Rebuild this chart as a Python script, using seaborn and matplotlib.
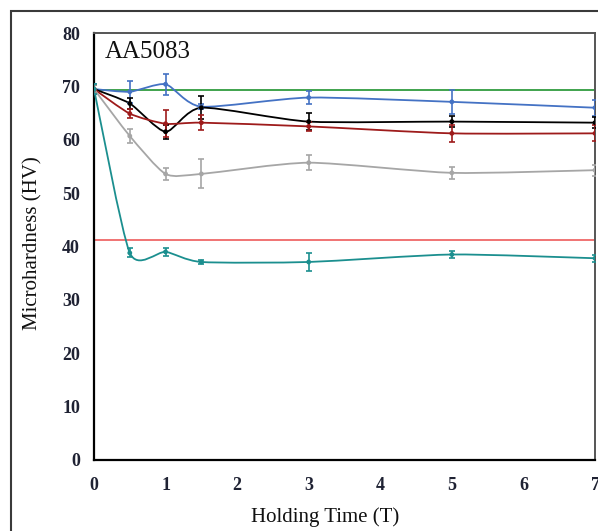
import numpy as np
import pandas as pd
import matplotlib
matplotlib.use("Agg")
import matplotlib.pyplot as plt
import seaborn as sns
from matplotlib.path import Path
from matplotlib.patches import PathPatch, Rectangle

# ---------------- data ----------------
time_T = [0, 0.5, 1, 1.5, 3, 5, 7]
series_names = ["blue", "black", "darkred", "gray", "teal"]

blue_hv = [69.5, 69.0, 70.4, 66.2, 67.9, 67.1, 66.0]
blue_err = [1.0, 2.1, 2.0, 0.5, 1.2, 2.2, 1.5]
black_hv = [69.5, 66.8, 61.5, 66.0, 63.4, 63.4, 63.2]
black_err = [0.8, 1.0, 1.3, 2.2, 1.6, 1.0, 1.0]
red_hv = [69.5, 64.9, 63.0, 63.2, 62.5, 61.2, 61.2]
red_err = [0.8, 0.8, 2.5, 1.4, 0.9, 1.6, 1.5]
gray_hv = [69.5, 60.7, 53.6, 53.6, 55.7, 53.8, 54.3]
gray_err = [0.8, 1.3, 1.1, 2.7, 1.4, 1.1, 1.0]
teal_hv = [69.5, 38.8, 39.0, 37.1, 37.1, 38.5, 37.8]
teal_err = [1.0, 0.85, 0.8, 0.3, 1.6, 0.7, 0.7]

upper_ref_hv = 69.3   # green reference line
lower_ref_hv = 41.2   # red reference line

x_ticks = [0, 1, 2, 3, 4, 5, 6, 7]
y_ticks = [0, 10, 20, 30, 40, 50, 60, 70, 80]

colors = {
    "blue": "#4472C4",
    "black": "#000000",
    "darkred": "#9E1B1B",
    "gray": "#A6A6A6",
    "teal": "#1B8F8F",
}
values = {"blue": blue_hv, "black": black_hv, "darkred": red_hv,
          "gray": gray_hv, "teal": teal_hv}
errors = {"blue": blue_err, "black": black_err, "darkred": red_err,
          "gray": gray_err, "teal": teal_err}

rows = []
for name in series_names:
    for t, v, e in zip(time_T, values[name], errors[name]):
        rows.append({"time": t, "hv": v, "err": e, "series": name})
df = pd.DataFrame(rows)

# ---------------- style ----------------
sns.set_theme(style="white")
plt.rcParams["font.family"] = ["Liberation Serif", "DejaVu Serif"]


def smooth_path(x, y, k=0.11):
    """Cardinal-spline style smoothed path (like spreadsheet 'smoothed line')."""
    pts = np.column_stack([x, y]).astype(float)
    n = len(pts)
    verts = [pts[0]]
    codes = [Path.MOVETO]
    for i in range(n - 1):
        p0 = pts[i - 1] if i > 0 else pts[i]
        p1 = pts[i]
        p2 = pts[i + 1]
        p3 = pts[i + 2] if i + 2 < n else pts[i + 1]
        c1 = p1 + (p2 - p0) * k
        c2 = p2 - (p3 - p1) * k
        verts += [c1, c2, p2]
        codes += [Path.CURVE4] * 3
    return Path(verts, codes)


W, H = 598, 531
fig = plt.figure(figsize=(W / 100, H / 100), dpi=100)
ax = fig.add_axes([94 / W, 1 - 460 / H, (595 - 94) / W, (460 - 33) / H])

# outer frame
fig.patches.append(Rectangle((11 / W, -0.2), 2.0, 1 - 11 / H + 0.2,
                             transform=fig.transFigure, fill=False,
                             edgecolor="#3a3a3a", linewidth=1.5, zorder=0))

# reference lines
ax.axhline(upper_ref_hv, color="#3FA34D", lw=1.4, zorder=2)
ax.axhline(lower_ref_hv, color="#F07373", lw=1.4, zorder=2)

for name in series_names:
    sub = df[df["series"] == name]
    c = colors[name]
    ax.add_patch(PathPatch(smooth_path(sub["time"].values, sub["hv"].values),
                           facecolor="none", edgecolor=c, lw=1.3, zorder=3))
    ax.errorbar(sub["time"], sub["hv"], yerr=sub["err"], fmt="none",
                ecolor=c, elinewidth=1.2, capsize=2.2, capthick=1.2, zorder=4)

sns.scatterplot(data=df, x="time", y="hv", hue="series", palette=colors,
                s=12, linewidth=0, legend=False, ax=ax, zorder=5)

ax.set_xlim(0, 7)
ax.set_ylim(0, 80)
ax.set_xticks(x_ticks)
ax.set_yticks(y_ticks)
ax.set_xlabel("")
ax.set_ylabel("")

tick_font = dict(family="Liberation Serif", size=13, weight="bold", color="#1f2233")
ax.set_xticklabels([str(t) for t in x_ticks], **tick_font)
ax.set_yticklabels([str(t) for t in y_ticks], **tick_font)
ax.tick_params(axis="y", direction="out", length=5, width=1.2, color="black", pad=5)
ax.tick_params(axis="x", direction="out", length=4, width=1.2, color="black", pad=8)

for side in ["left", "bottom"]:
    ax.spines[side].set_color("black")
    ax.spines[side].set_linewidth(1.6)
for side in ["top", "right"]:
    ax.spines[side].set_color("#555555")
    ax.spines[side].set_linewidth(1.4)

ax.text(0.022, 0.955, "AA5083", transform=ax.transAxes, ha="left", va="center",
        fontsize=18, family="Liberation Serif", color="#111111")

fig.text(33 / W, 1 - 243 / H, "Microhardness (HV)", rotation=90, ha="center",
         va="center", fontsize=15, family="Liberation Serif", color="#111111")
fig.text(325.5 / W, 1 - 517 / H, "Holding Time (T)", ha="center", va="center",
         fontsize=15, family="Liberation Serif", color="#111111")

fig.savefig("out.png", dpi=100)
